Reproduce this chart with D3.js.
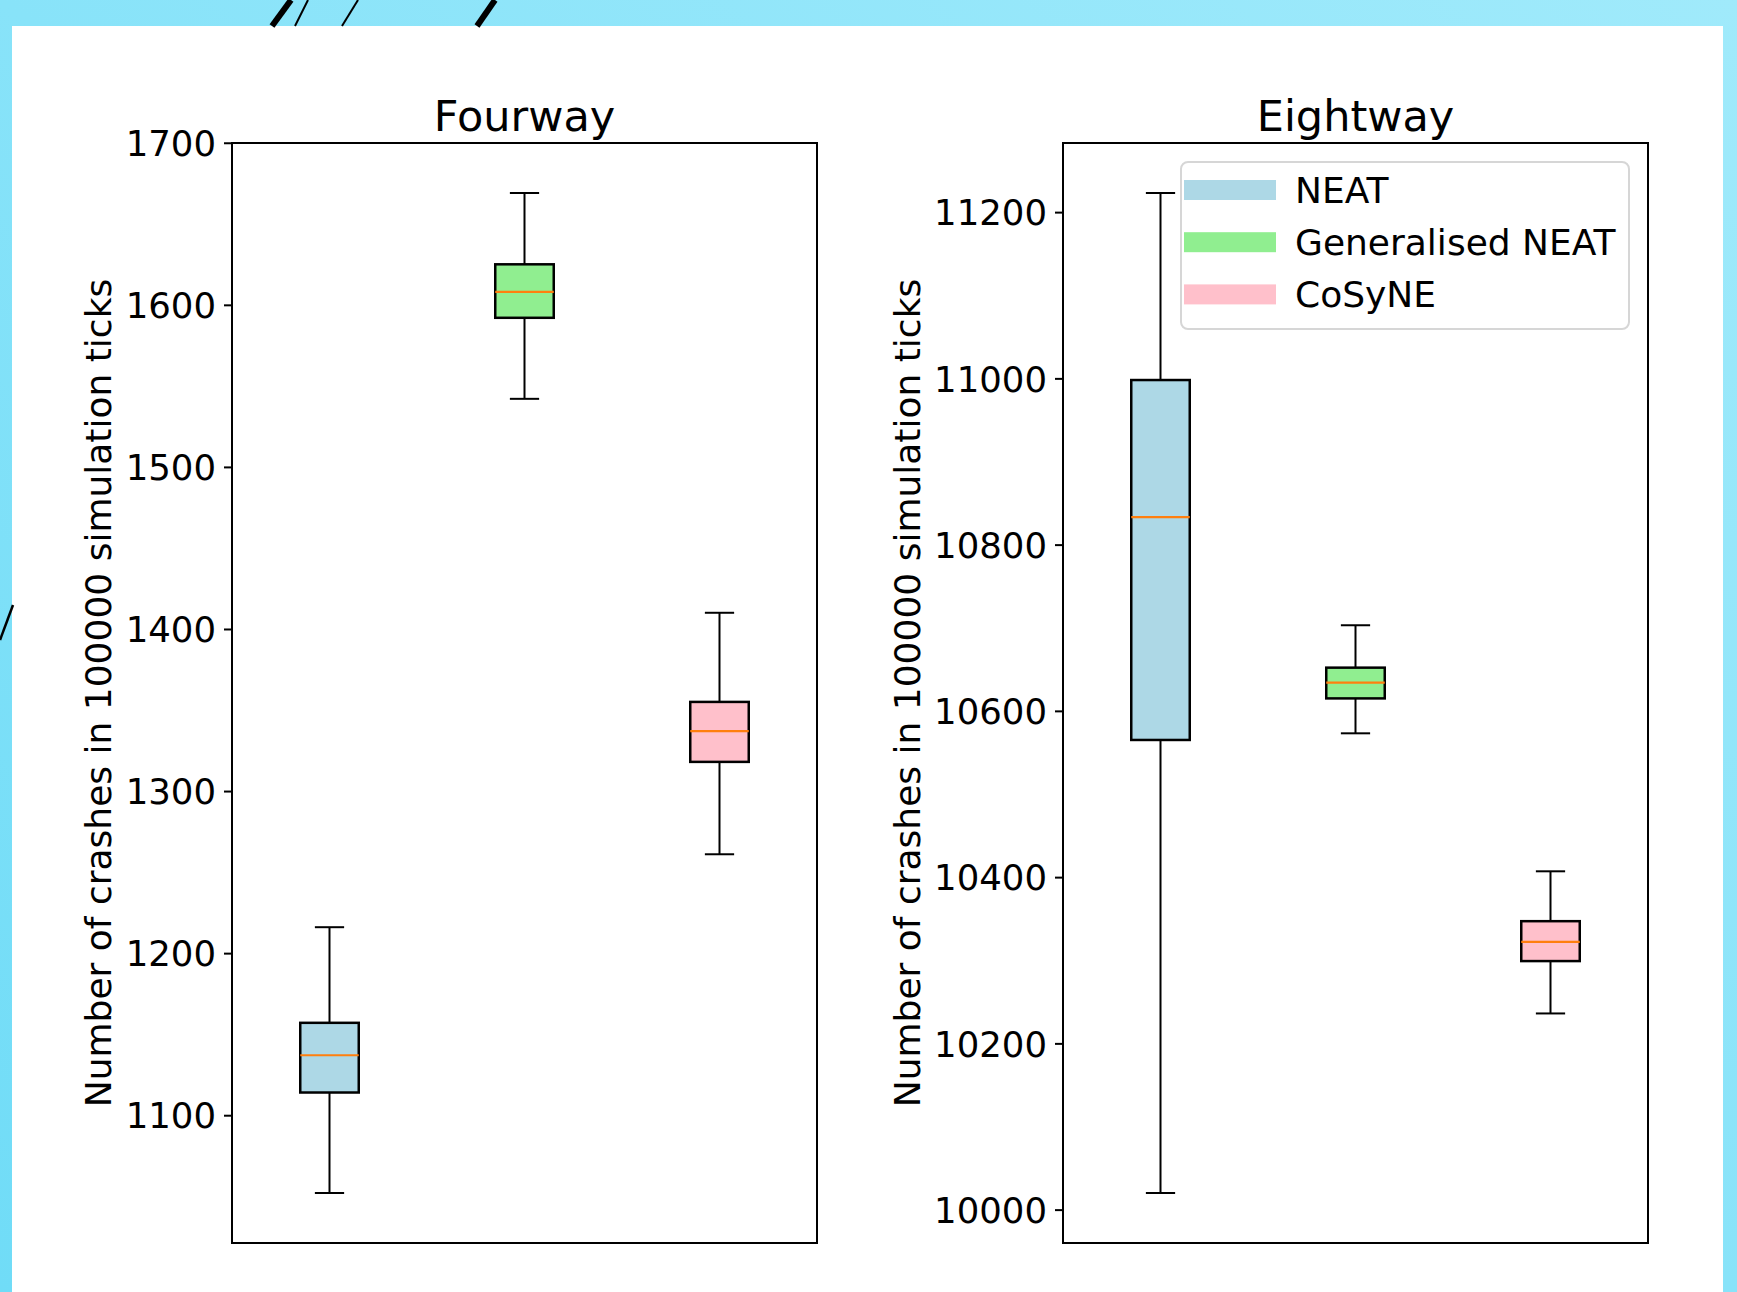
<!DOCTYPE html>
<html>
<head>
<meta charset="utf-8">
<script src="https://cdn.jsdelivr.net/npm/d3@7"></script>
<style>
  html, body { margin: 0; padding: 0; background: #fff; }
  svg { display: block; }
  text { font-family: "DejaVu Sans", sans-serif; fill: #000; }
</style>
</head>
<body>
<div id="chart"></div>
<script>
'use strict'

var W = 1737;
var H = 1292;

// data
var panelTitles = ["Fourway", "Eightway"];
var methods = ["NEAT", "Generalised NEAT", "CoSyNE"];
var methodColors = ["#add8e6", "#90ee90", "#ffc0cb"];

var fourwayLow    = [1052, 1542, 1261];
var fourwayQ1     = [1114, 1592, 1318];
var fourwayMedian = [1137, 1608, 1337];
var fourwayQ3     = [1157, 1625, 1355];
var fourwayHigh   = [1216, 1669, 1410];
var fourwayTicks  = [1100, 1200, 1300, 1400, 1500, 1600, 1700];

var eightwayLow    = [10020, 10573, 10236];
var eightwayQ1     = [10565, 10615, 10299];
var eightwayMedian = [10833, 10634, 10322];
var eightwayQ3     = [10998, 10652, 10347];
var eightwayHigh   = [11223, 10703, 10407];
var eightwayTicks  = [10000, 10200, 10400, 10600, 10800, 11000, 11200];

var yLabel = "Number of crashes in 100000 simulation ticks";

var panels = [
    { title: panelTitles[0], low: fourwayLow, q1: fourwayQ1, med: fourwayMedian, q3: fourwayQ3, high: fourwayHigh, ticks: fourwayTicks, left: 232, labelX: 98, legend: false },
    { title: panelTitles[1], low: eightwayLow, q1: eightwayQ1, med: eightwayMedian, q3: eightwayQ3, high: eightwayHigh, ticks: eightwayTicks, left: 1063, labelX: 907, legend: true }
];

var axTop = 143;
var axBottom = 1243;
var axWidth = 585;

var svg = d3.select("#chart").append("svg").attr("width", W).attr("height", H);

// background, white sheet and the stray slashes
var defs = svg.append("defs");
var grad = defs.append("linearGradient").attr("id", "bg")
    .attr("x1", "100%").attr("y1", "0%").attr("x2", "0%").attr("y2", "100%");
grad.append("stop").attr("offset", "0%").attr("stop-color", "#a0eafb");
grad.append("stop").attr("offset", "100%").attr("stop-color", "#70dcf7");
svg.append("rect").attr("width", W).attr("height", H).attr("fill", "url(#bg)");
svg.append("rect").attr("x", 12).attr("y", 26).attr("width", 1711).attr("height", H - 26).attr("fill", "#fff");

var slashes = [
    { x1: 291, y1: 0, x2: 272, y2: 26, w: 6 },
    { x1: 308, y1: 0, x2: 295, y2: 26, w: 2 },
    { x1: 358, y1: 0, x2: 342, y2: 26, w: 2 },
    { x1: 495, y1: 0, x2: 477, y2: 26, w: 6 },
    { x1: 13, y1: 605, x2: 0, y2: 640, w: 2.5 }
];
svg.selectAll(".slash").data(slashes).enter().append("line")
    .attr("class", "slash")
    .attr("x1", function(d) { return d.x1; })
    .attr("y1", function(d) { return d.y1; })
    .attr("x2", function(d) { return d.x2; })
    .attr("y2", function(d) { return d.y2; })
    .style("stroke", "#000")
    .style("stroke-width", function(d) { return d.w; });

panels.forEach(function(p) {

    // matplotlib style 5% margin around the whiskers
    var lo = d3.min(p.low), hi = d3.max(p.high);
    var pad = (hi - lo) * 0.05;
    var y = d3.scaleLinear().domain([lo - pad, hi + pad]).range([axBottom, axTop]);
    var x = d3.scaleLinear().domain([0.5, 3.5]).range([p.left, p.left + axWidth]);

    var g = svg.append("g");

    var yAxis = d3.axisLeft(y).tickValues(p.ticks).tickSize(8).tickPadding(8).tickFormat(d3.format("d"));
    var ax = g.append("g").attr("transform", "translate(" + p.left + ",0)").call(yAxis);
    ax.select(".domain").remove();
    ax.selectAll(".tick line").style("stroke", "#000").style("stroke-width", 2);
    ax.selectAll(".tick text").style("font-size", "35.5px").style("font-family", "DejaVu Sans").attr("dy", "0.36em");

    var rows = methods.map(function(m, i) {
        return { pos: i + 1, low: p.low[i], q1: p.q1[i], med: p.med[i], q3: p.q3[i], high: p.high[i], color: methodColors[i] };
    });
    var half = 0.15;
    var capHalf = 0.075;

    // whiskers
    g.selectAll(".whisk").data(rows).enter().append("line").attr("class", "whisk")
        .attr("x1", function(d) { return x(d.pos); }).attr("x2", function(d) { return x(d.pos); })
        .attr("y1", function(d) { return y(d.low); }).attr("y2", function(d) { return y(d.q1); })
        .style("stroke", "#000").style("stroke-width", 2);
    g.selectAll(".whisk2").data(rows).enter().append("line").attr("class", "whisk2")
        .attr("x1", function(d) { return x(d.pos); }).attr("x2", function(d) { return x(d.pos); })
        .attr("y1", function(d) { return y(d.q3); }).attr("y2", function(d) { return y(d.high); })
        .style("stroke", "#000").style("stroke-width", 2);
    g.selectAll(".capLo").data(rows).enter().append("line").attr("class", "capLo")
        .attr("x1", function(d) { return x(d.pos - capHalf); }).attr("x2", function(d) { return x(d.pos + capHalf); })
        .attr("y1", function(d) { return y(d.low); }).attr("y2", function(d) { return y(d.low); })
        .style("stroke", "#000").style("stroke-width", 2);
    g.selectAll(".capHi").data(rows).enter().append("line").attr("class", "capHi")
        .attr("x1", function(d) { return x(d.pos - capHalf); }).attr("x2", function(d) { return x(d.pos + capHalf); })
        .attr("y1", function(d) { return y(d.high); }).attr("y2", function(d) { return y(d.high); })
        .style("stroke", "#000").style("stroke-width", 2);

    // boxes
    g.selectAll(".box").data(rows).enter().append("rect").attr("class", "box")
        .attr("x", function(d) { return x(d.pos - half); })
        .attr("width", function(d) { return x(d.pos + half) - x(d.pos - half); })
        .attr("y", function(d) { return y(d.q3); })
        .attr("height", function(d) { return y(d.q1) - y(d.q3); })
        .style("fill", function(d) { return d.color; })
        .style("stroke", "#000").style("stroke-width", 2.5);

    // medians
    g.selectAll(".med").data(rows).enter().append("line").attr("class", "med")
        .attr("x1", function(d) { return x(d.pos - half); }).attr("x2", function(d) { return x(d.pos + half); })
        .attr("y1", function(d) { return y(d.med); }).attr("y2", function(d) { return y(d.med); })
        .style("stroke", "#ff7f0e").style("stroke-width", 2.2);

    // frame
    g.append("rect").attr("x", p.left).attr("y", axTop).attr("width", axWidth).attr("height", axBottom - axTop)
        .style("fill", "none").style("stroke", "#000").style("stroke-width", 2);

    g.append("text").attr("x", p.left + axWidth / 2).attr("y", 131)
        .attr("text-anchor", "middle").style("font-size", "43px").text(p.title);

    g.append("text")
        .attr("transform", "translate(" + p.labelX + "," + ((axTop + axBottom) / 2) + ") rotate(-90)")
        .attr("text-anchor", "middle").attr("dy", "0.36em")
        .style("font-size", "36px").text(yLabel);

    if (p.legend) {
        var lg = g.append("g");
        lg.append("rect").attr("x", 1181).attr("y", 162).attr("width", 448).attr("height", 167)
            .attr("rx", 7).attr("ry", 7)
            .style("fill", "rgba(255,255,255,0.8)").style("stroke", "#d6d6d6").style("stroke-width", 2);
        var items = lg.selectAll(".item").data(methods).enter().append("g").attr("class", "item")
            .attr("transform", function(d, i) { return "translate(0," + (190 + i * 52.2) + ")"; });
        items.append("rect").attr("x", 1184).attr("y", -10).attr("width", 92).attr("height", 20)
            .style("fill", function(d, i) { return methodColors[i]; });
        items.append("text").attr("x", 1295).attr("y", 0).attr("dy", "0.36em")
            .style("font-size", "36px").text(function(d) { return d; });
    }
});

</script>
</body>
</html>
